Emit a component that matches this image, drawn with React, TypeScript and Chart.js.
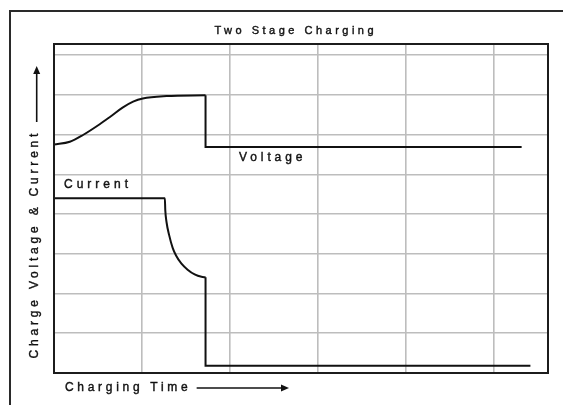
import React, { useEffect, useRef } from "react";
import { Chart, registerables } from "chart.js";

Chart.register(...registerables);

// ---- data ----
// Voltage: smooth rise, plateau, then a step down to the float level
const voltageRampX = [0, 0.18, 0.33, 0.52, 0.64, 0.78, 0.9, 1.01, 1.28, 1.724];
const voltageRampY = [5.75, 5.82, 5.99, 6.26, 6.45, 6.68, 6.83, 6.91, 6.97, 6.99];
const voltageStepX = [1.724, 1.724, 5.32];
const voltageStepY = [6.99, 5.69, 5.69];

// Current: constant, decaying curve, then a step down to the low level
const currentCurveX = [0, 1.261, 1.266, 1.28, 1.31, 1.35, 1.39, 1.45, 1.52, 1.6, 1.678, 1.724];
const currentCurveY = [4.4, 4.4, 4.1, 3.8, 3.47, 3.15, 2.95, 2.75, 2.6, 2.48, 2.42, 2.41];
const currentStepX = [1.724, 1.724, 5.42];
const currentStepY = [2.41, 0.18, 0.18];

const seriesNames = ["Voltage", "Current"];
const chartTitle = "Two Stage Charging";
const yAxisLabel = "Charge Voltage & Current";
const xAxisLabel = "Charging Time";

const xMax = 5.62;
const yMax = 8.28;

const FONT = "'Liberation Sans', Arial, sans-serif";
const INK = "#111111";

function drawSpaced(ctx: CanvasRenderingContext2D, text: string, x: number, y: number, spacing: number, align: "left" | "center") {
  (ctx as any).letterSpacing = spacing + "px";
  const w = ctx.measureText(text).width - spacing;
  const startX = align === "center" ? x - w / 2 : x;
  ctx.textAlign = "left";
  ctx.fillText(text, startX, y);
  ctx.lineWidth = 0.4;
  ctx.strokeStyle = INK;
  ctx.strokeText(text, startX, y);
  (ctx as any).letterSpacing = "0px";
  return w;
}

const decorations = {
  id: "decorations",
  afterDraw(chart: any) {
    const ctx: CanvasRenderingContext2D = chart.ctx;
    const a = chart.chartArea;
    ctx.save();
    // outer frame (runs off the picture on the right and bottom)
    ctx.strokeStyle = "#2a2a2a";
    ctx.lineWidth = 2;
    ctx.beginPath();
    ctx.moveTo(10, 420);
    ctx.lineTo(10, 11);
    ctx.lineTo(580, 11);
    ctx.stroke();
    // plot border
    ctx.strokeStyle = "#1c1c1c";
    ctx.lineWidth = 2;
    ctx.strokeRect(a.left, a.top, a.right - a.left, a.bottom - a.top);

    ctx.fillStyle = INK;
    ctx.textBaseline = "middle";
    // title
    ctx.font = "11px " + FONT;
    drawSpaced(ctx, chartTitle, 294, 31, 3.5, "center");
    // series labels
    ctx.font = "12px " + FONT;
    drawSpaced(ctx, seriesNames[0], 239, 158, 3.9, "left");
    drawSpaced(ctx, seriesNames[1], 64, 185, 4.0, "left");
    // x axis label + arrow
    const w = drawSpaced(ctx, xAxisLabel, 65, 388, 3.7, "left");
    ctx.strokeStyle = INK;
    ctx.lineWidth = 1.6;
    ctx.beginPath();
    ctx.moveTo(65 + w + 9, 388);
    ctx.lineTo(283, 388);
    ctx.stroke();
    ctx.beginPath();
    ctx.moveTo(289, 388);
    ctx.lineTo(281, 384.5);
    ctx.lineTo(281, 391.5);
    ctx.closePath();
    ctx.fill();
    // y axis label (rotated) + arrow
    ctx.save();
    ctx.translate(35, 246);
    ctx.rotate(-Math.PI / 2);
    drawSpaced(ctx, yAxisLabel, 0, 0, 3.8, "center");
    ctx.restore();
    ctx.strokeStyle = INK;
    ctx.lineWidth = 1.6;
    ctx.beginPath();
    ctx.moveTo(36.7, 122);
    ctx.lineTo(36.7, 72);
    ctx.stroke();
    ctx.beginPath();
    ctx.moveTo(36.7, 66);
    ctx.lineTo(33.2, 74);
    ctx.lineTo(40.2, 74);
    ctx.closePath();
    ctx.fill();
    ctx.restore();
  },
};

export default function App() {
  const ref = useRef<HTMLCanvasElement>(null);
  useEffect(() => {
    if (!ref.current) return;
    const mk = (xs: number[], ys: number[]) => xs.map((x, i) => ({ x, y: ys[i] }));
    const base = {
      borderColor: INK,
      borderWidth: 2,
      pointRadius: 0,
      fill: false,
      borderJoinStyle: "miter" as const,
    };
    const chart = new Chart(ref.current, {
      type: "line",
      data: {
        datasets: [
          { ...base, label: seriesNames[0], data: mk(voltageRampX, voltageRampY), cubicInterpolationMode: "monotone" },
          { ...base, label: seriesNames[0] + " step", data: mk(voltageStepX, voltageStepY), tension: 0 },
          { ...base, label: seriesNames[1], data: mk(currentCurveX, currentCurveY), cubicInterpolationMode: "monotone" },
          { ...base, label: seriesNames[1] + " step", data: mk(currentStepX, currentStepY), tension: 0 },
        ],
      },
      options: {
        animation: false,
        responsive: false,
        devicePixelRatio: 1,
        layout: { padding: { left: 54, top: 44, right: 15, bottom: 32 } },
        plugins: { legend: { display: false }, tooltip: { enabled: false }, title: { display: false } },
        scales: {
          x: {
            type: "linear",
            min: 0,
            max: xMax,
            ticks: { display: false, stepSize: 1, includeBounds: false },
            grid: { color: "#bdbdbd", lineWidth: 1.6, drawTicks: false },
            border: { display: false },
          },
          y: {
            type: "linear",
            min: 0,
            max: yMax,
            ticks: { display: false, stepSize: 1, includeBounds: false },
            grid: { color: "#bdbdbd", lineWidth: 1.6, drawTicks: false },
            border: { display: false },
          },
        },
      },
      plugins: [decorations],
    });
    return () => chart.destroy();
  }, []);
  return (
    <div style={{ position: "fixed", left: 0, top: 0, width: 563, height: 405, background: "#fff" }}>
      <canvas ref={ref} width={563} height={405} style={{ display: "block" }} />
    </div>
  );
}
